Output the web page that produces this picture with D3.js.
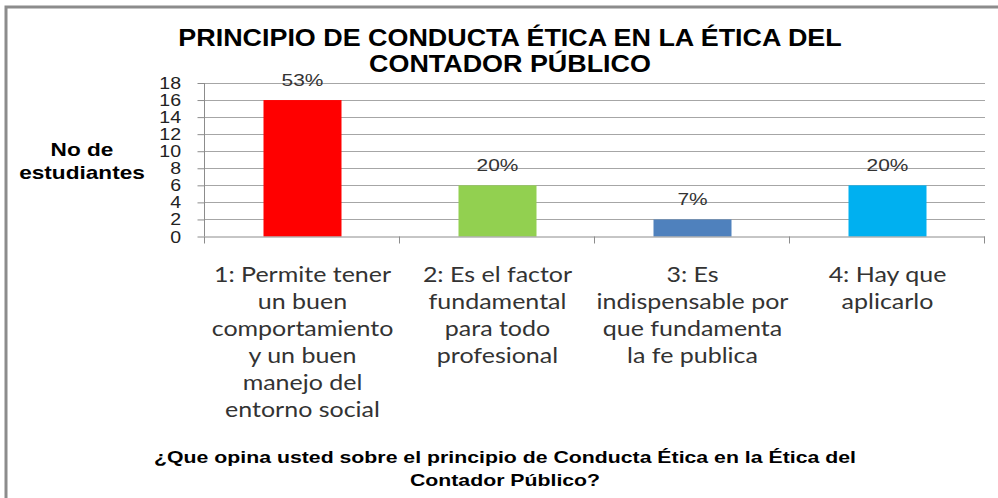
<!DOCTYPE html>
<html>
<head>
<meta charset="utf-8">
<script src="https://cdn.jsdelivr.net/npm/d3@7"></script>
<style>
  body { margin: 0; background: #fff; }
  svg { display: block; }
</style>
</head>
<body>
<div id="chart"></div>
<script>
// chart data
const categories = ["1", "2", "3", "4"];
const catLabels = [
    ["1: Permite tener", "un buen", "comportamiento", "y un buen", "manejo del", "entorno social"],
    ["2: Es el factor", "fundamental", "para todo", "profesional"],
    ["3: Es", "indispensable por", "que fundamenta", "la fe publica"],
    ["4: Hay que", "aplicarlo"]
];
const values = [16, 6, 2, 6];
const pctLabels = ["53%", "20%", "7%", "20%"];
const barColors = ["#FF0000", "#92D050", "#4F81BD", "#00B0F0"];
const yTicks = [0, 2, 4, 6, 8, 10, 12, 14, 16, 18];
const titleLines = ["PRINCIPIO DE CONDUCTA ÉTICA EN LA ÉTICA DEL", "CONTADOR PÚBLICO"];
const yTitleLines = ["No de", "estudiantes"];
const xTitleLines = ["¿Que opina usted sobre el principio de  Conducta Ética en la Ética del", "Contador Público?"];

const WIDTH = 998;
const HEIGHT = 498;
const LEFT = 205, RIGHT = 985, TOP = 83, BOTTOM = 236.5;
const ARIAL = "'Liberation Sans', Arial, sans-serif";

let svg = d3.select("#chart")
    .append("svg")
    .attr("width", WIDTH)
    .attr("height", HEIGHT);

// the original picture is stretched sideways, so texts get a horizontal scale
function stretchedText(parent, x, y, sx, txt) {
    return parent.append("g")
        .attr("transform", "translate(" + x + "," + y + ") scale(" + sx + ",1)")
        .append("text")
        .attr("text-anchor", "middle")
        .text(txt);
}

// outer frame
svg.append("rect")
   .attr("x", 6).attr("y", 7)
   .attr("width", WIDTH + 20).attr("height", HEIGHT + 20)
   .attr("fill", "#fff")
   .attr("stroke", "#8c8c8c")
   .attr("stroke-width", 3);

let xScale = d3.scaleBand()
    .domain(categories)
    .range([LEFT, RIGHT])
    .paddingInner(0.6)
    .paddingOuter(0.3);

let yScale = d3.scaleLinear()
    .domain([0, 18])
    .range([BOTTOM, TOP]);

// gridlines
svg.append("g")
   .selectAll("line")
   .data(yTicks.filter(d => d > 0))
   .enter()
   .append("line")
   .attr("x1", LEFT).attr("x2", RIGHT)
   .attr("y1", d => Math.round(yScale(d)) + 0.5)
   .attr("y2", d => Math.round(yScale(d)) + 0.5)
   .attr("stroke", "#a6a6a6")
   .attr("stroke-width", 1);

// bars
svg.selectAll("rect.bar")
   .data(values)
   .enter()
   .append("rect")
   .attr("class", "bar")
   .attr("x", (d, i) => xScale(categories[i]))
   .attr("y", d => yScale(d))
   .attr("width", xScale.bandwidth())
   .attr("height", d => BOTTOM - yScale(d))
   .attr("fill", (d, i) => barColors[i]);

// y axis
let yAxis = d3.axisLeft(yScale)
    .tickValues(yTicks)
    .tickSize(7)
    .tickFormat("");
let yg = svg.append("g")
   .attr("transform", "translate(" + (LEFT - 0.5) + ",0)")
   .call(yAxis);
yg.select(".domain").attr("stroke", "#8c8c8c").attr("d", "M0," + TOP + "V" + BOTTOM);
yg.selectAll(".tick line").attr("stroke", "#8c8c8c");
yTicks.forEach(v => {
    stretchedText(svg, 181, yScale(v) + 6, 1.15, v)
        .attr("text-anchor", "end")
        .attr("font-family", ARIAL)
        .attr("font-size", 17)
        .attr("fill", "#222");
});

// x axis line and tick marks at category boundaries
let boundaries = [LEFT, ...categories.map(c => xScale(c) + xScale.bandwidth() / 2 + xScale.step() / 2)];
svg.append("line")
   .attr("x1", LEFT).attr("x2", RIGHT)
   .attr("y1", BOTTOM + 0.5).attr("y2", BOTTOM + 0.5)
   .attr("stroke", "#8c8c8c");
svg.selectAll("line.xtick")
   .data(boundaries)
   .enter()
   .append("line")
   .attr("class", "xtick")
   .attr("x1", d => Math.round(d) - 0.5).attr("x2", d => Math.round(d) - 0.5)
   .attr("y1", BOTTOM).attr("y2", BOTTOM + 7)
   .attr("stroke", "#8c8c8c");

// category labels
categories.forEach((c, i) => {
    catLabels[i].forEach((line, j) => {
        stretchedText(svg, xScale(c) + xScale.bandwidth() / 2, 282 + j * 27, 1.19, line)
            .attr("font-family", "Lato, 'Open Sans', sans-serif")
            .attr("font-size", 21)
            .attr("fill", "#333");
    });
});

// percentage labels
values.forEach((v, i) => {
    stretchedText(svg, xScale(categories[i]) + xScale.bandwidth() / 2, yScale(v) - 14, 1.23, pctLabels[i])
        .attr("font-family", ARIAL)
        .attr("font-size", 17)
        .attr("fill", "#333");
});

// title
titleLines.forEach((t, i) => {
    stretchedText(svg, 510, 46 + i * 26, 1.17, t)
        .attr("font-family", ARIAL)
        .attr("font-weight", "bold")
        .attr("font-size", 23)
        .attr("fill", "#000");
});

// y axis title
yTitleLines.forEach((t, i) => {
    stretchedText(svg, 82, 156 + i * 23, 1.19, t)
        .attr("font-family", ARIAL)
        .attr("font-weight", "bold")
        .attr("font-size", 19)
        .attr("fill", "#000");
});

// x axis title
xTitleLines.forEach((t, i) => {
    stretchedText(svg, 505, 463 + i * 23, 1.33, t)
        .attr("font-family", ARIAL)
        .attr("font-weight", "bold")
        .attr("font-size", 16)
        .attr("fill", "#000");
});
</script>
</body>
</html>
